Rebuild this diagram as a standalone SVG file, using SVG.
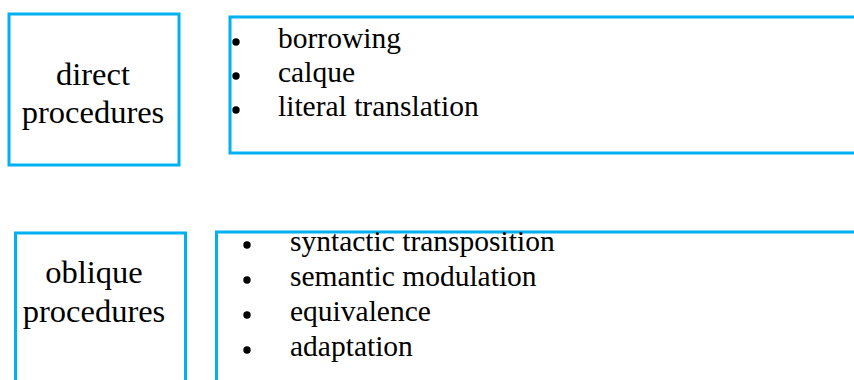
<svg xmlns="http://www.w3.org/2000/svg" width="854" height="380" viewBox="0 0 854 380">
<style>
.box{fill:#fff;stroke:#00B0F0;stroke-width:3}
.lbl{font-family:"Liberation Serif","Times New Roman",serif;font-size:32.5px;fill:#000;text-anchor:middle}
.item{font-family:"Liberation Serif","Times New Roman",serif;font-size:29.5px;fill:#000}
.dot{fill:#000}
</style>
<rect width="854" height="380" fill="#fff"/>
<g id="direct">
<rect class="box" x="9" y="14" width="170" height="151"/>
<text class="lbl" x="93" y="85">direct</text>
<text class="lbl" x="93" y="123">procedures</text>
</g>
<g id="direct-list">
<rect class="box" x="230" y="17" width="640" height="136"/>
<circle class="dot" cx="236" cy="42" r="3.7"/>
<circle class="dot" cx="236" cy="76" r="3.7"/>
<circle class="dot" cx="236" cy="110" r="3.7"/>
<text class="item" x="278" y="48">borrowing</text>
<text class="item" x="278" y="82">calque</text>
<text class="item" x="278" y="116">literal translation</text>
</g>
<g id="oblique">
<rect class="box" x="15.5" y="233" width="170" height="160"/>
<text class="lbl" x="94" y="283">oblique</text>
<text class="lbl" x="94" y="322">procedures</text>
</g>
<g id="oblique-list">
<rect class="box" x="216.5" y="232" width="650" height="160"/>
<circle class="dot" cx="247" cy="245" r="3.7"/>
<circle class="dot" cx="247" cy="280" r="3.7"/>
<circle class="dot" cx="247" cy="315" r="3.7"/>
<circle class="dot" cx="247" cy="350" r="3.7"/>
<text class="item" x="290" y="251">syntactic transposition</text>
<text class="item" x="290" y="286">semantic modulation</text>
<text class="item" x="290" y="321">equivalence</text>
<text class="item" x="290" y="356">adaptation</text>
</g>
<g id="connectors"></g>
</svg>
